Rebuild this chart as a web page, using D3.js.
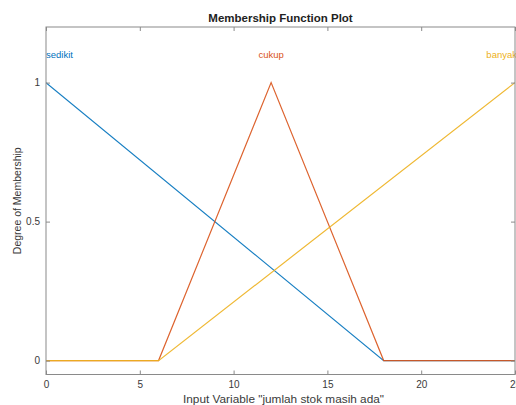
<!DOCTYPE html>
<html>
<head>
<meta charset="utf-8">
<script src="https://cdn.jsdelivr.net/npm/d3@7"></script>
<style>
  html, body { margin: 0; padding: 0; background: #fff; }
  svg { display: block; font-family: "Liberation Sans", Arial, Helvetica, sans-serif; }
</style>
</head>
<body>
<svg id="chart" width="516" height="405"></svg>
<script>
// Membership functions of the input "jumlah stok masih ada" (breakpoints)
const mfNames = ["sedikit", "cukup", "banyak"];
const sedikitX = [0, 18, 25];
const sedikitY = [1, 0, 0];
const cukupX = [0, 6, 12, 18, 25];
const cukupY = [0, 0, 1, 0, 0];
const banyakX = [0, 6, 25];
const banyakY = [0, 0, 1];
const xTicks = [0, 5, 10, 15, 20, 25];
const yTicks = [0, 0.5, 1];

const colors = ["#0072BD", "#D95319", "#EDB120"];
const series = [
  { name: mfNames[0], xs: sedikitX, ys: sedikitY, peak: 0, anchor: "start" },
  { name: mfNames[1], xs: cukupX, ys: cukupY, peak: 12, anchor: "middle" },
  { name: mfNames[2], xs: banyakX, ys: banyakY, peak: 25, anchor: "end" }
];

const svg = d3.select("#chart");
const m = { left: 46, right: 1, top: 27, bottom: 30.5 };
const W = 516, H = 405;

const x = d3.scaleLinear().domain([0, 25]).range([m.left, W - m.right]);
const y = d3.scaleLinear().domain([-0.05, 1.2]).range([H - m.bottom, m.top]);

const axisColor = "#8a8a8a";
const textColor = "#3a3a3a";

// clip for plot area
svg.append("defs").append("clipPath").attr("id", "plotclip")
  .append("rect")
  .attr("x", x(0)).attr("y", y(1.2))
  .attr("width", x(25) - x(0)).attr("height", y(-0.05) - y(1.2));

// curves
const line = d3.line().x(d => x(d[0])).y(d => y(d[1]));
const g = svg.append("g").attr("clip-path", "url(#plotclip)");
series.forEach((s, i) => {
  g.append("path")
    .datum(s.xs.map((v, k) => [v, s.ys[k]]))
    .attr("d", line)
    .attr("fill", "none")
    .attr("stroke", colors[i])
    .attr("stroke-width", 1.2)
    .attr("opacity", 0.9);
});

// membership function names
series.forEach((s, i) => {
  svg.append("text")
    .attr("x", s.anchor === "end" ? x(s.peak) + 2 : x(s.peak))
    .attr("y", y(1.1) + 3)
    .attr("text-anchor", s.anchor)
    .attr("fill", colors[i])
    .attr("font-size", 9.5)
    .text(s.name);
});

// axes (ticks inward, boxed)
const tl = 4;
const xAxisB = d3.axisBottom(x).tickValues(xTicks).tickSize(-tl).tickPadding(6).tickFormat(d3.format("d"));
const xAxisT = d3.axisTop(x).tickValues(xTicks).tickSize(-tl).tickFormat("");
const yAxisL = d3.axisLeft(y).tickValues(yTicks).tickSize(-tl).tickPadding(6).tickFormat(d => d === 0.5 ? "0.5" : d3.format("d")(d));
const yAxisR = d3.axisRight(y).tickValues(yTicks).tickSize(-tl).tickFormat("");

function style(sel) {
  sel.selectAll("path").attr("stroke", axisColor).attr("stroke-width", 1);
  sel.selectAll("line").attr("stroke", axisColor).attr("stroke-width", 1);
  sel.selectAll("text").attr("fill", textColor).attr("font-size", 10)
    .attr("font-family", "'Liberation Sans', Arial, sans-serif");
  sel.select(".domain").attr("d", null);
}

svg.append("g").attr("transform", `translate(0,${y(-0.05)})`).call(xAxisB).call(style);
svg.append("g").attr("transform", `translate(0,${y(1.2)})`).call(xAxisT).call(style);
svg.append("g").attr("transform", `translate(${x(0)},0)`).call(yAxisL).call(style);
svg.append("g").attr("transform", `translate(${x(25)},0)`).call(yAxisR).call(style);

// box
svg.append("rect")
  .attr("x", x(0)).attr("y", y(1.2))
  .attr("width", x(25) - x(0)).attr("height", y(-0.05) - y(1.2))
  .attr("fill", "none").attr("stroke", axisColor).attr("stroke-width", 1);

// title and axis labels
svg.append("text")
  .attr("x", (x(0) + x(25)) / 2).attr("y", 22)
  .attr("text-anchor", "middle").attr("font-weight", "bold")
  .attr("font-size", 11.5).attr("fill", "#222")
  .text("Membership Function Plot");

svg.append("text")
  .attr("x", (x(0) + x(25)) / 2 + 3).attr("y", 403)
  .attr("text-anchor", "middle").attr("font-size", 11.8).attr("fill", textColor)
  .text('Input Variable "jumlah stok masih ada"');

svg.append("text")
  .attr("transform", `translate(21,${(y(1.2) + y(-0.05)) / 2}) rotate(-90)`)
  .attr("text-anchor", "middle").attr("font-size", 10.5).attr("fill", textColor)
  .text("Degree of Membership");
</script>
</body>
</html>
